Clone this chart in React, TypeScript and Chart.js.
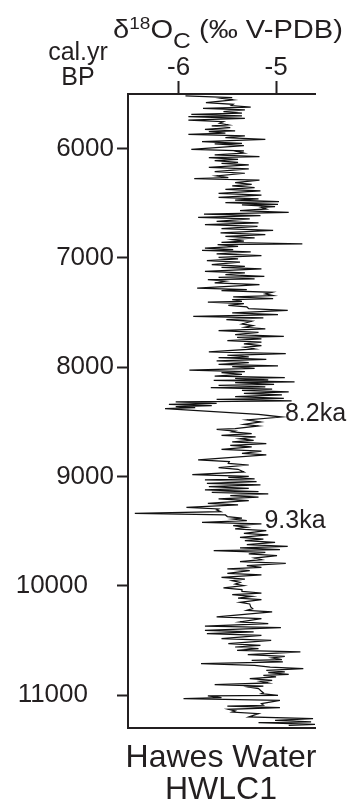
import React, { useEffect, useRef } from 'react';
import { Chart, registerables } from 'chart.js';

Chart.register(...registerables);

// Age (cal. yr BP) and δ18O carbonate (‰ V-PDB) read from the record
const ages: number[] = [
  5518, 5533, 5539, 5554, 5579, 5594, 5606, 5621, 5631, 5646, 5661, 5676, 5686, 5701, 5707, 5722,
  5738, 5753, 5768, 5783, 5792, 5807, 5823, 5838, 5844, 5859, 5869, 5884, 5899, 5914, 5936, 5951,
  5957, 5972, 6006, 6021, 6027, 6042, 6058, 6073, 6082, 6097, 6110, 6125, 6134, 6149, 6171, 6186,
  6210, 6225, 6250, 6265, 6274, 6289, 6311, 6326, 6341, 6356, 6372, 6387, 6409, 6424, 6445, 6460,
  6470, 6485, 6494, 6509, 6515, 6530, 6537, 6552, 6567, 6582, 6598, 6613, 6628, 6643,
  6665, 6680, 6695, 6710, 6732, 6747, 6771, 6786, 6802, 6817, 6832, 6847, 6857, 6872, 6878, 6893,
  6909, 6924, 6930, 6945, 6963, 6978, 6994, 7009, 7024, 7039, 7061, 7076, 7085, 7100, 7122, 7137,
  7153, 7168, 7177, 7192, 7198, 7213, 7229, 7244, 7275, 7290, 7299, 7314, 7329, 7344, 7357, 7372,
  7381, 7396, 7403, 7418, 7433, 7448, 7464, 7479, 7503, 7518, 7534, 7549, 7564, 7579, 7604, 7619,
  7634, 7649, 7665, 7680, 7702, 7717, 7726, 7741, 7756, 7771, 7787, 7802, 7817, 7832,
  7860, 7875, 7890, 7905, 7912, 7927, 7942, 7957, 7973, 7988, 7994, 8009, 8025, 8040, 8049, 8064,
  8080, 8095, 8101, 8116, 8119, 8134, 8141, 8156, 8165, 8180, 8186, 8201, 8211, 8226, 8238, 8253,
  8269, 8284, 8293, 8308, 8317, 8330, 8339, 8351, 8360, 8369, 8378, 8430, 8455, 8482, 8500, 8522,
  8537, 8561, 8568, 8583, 8592, 8607, 8622, 8637, 8653, 8668, 8683, 8698, 8714, 8729, 8751, 8766,
  8787, 8802, 8848, 8863, 8879, 8894, 8918, 8933, 8958, 8982, 8997,
  9007, 9022, 9031, 9046, 9061, 9076, 9092, 9107, 9122, 9137, 9144, 9159, 9174, 9189, 9205, 9220,
  9244, 9259, 9281, 9296, 9305, 9320, 9336, 9351, 9366, 9381, 9388, 9403, 9418, 9433, 9449, 9464,
  9479, 9494, 9519, 9534, 9556, 9571, 9586, 9601, 9623, 9638, 9653, 9668, 9678, 9693, 9708, 9723,
  9745, 9760, 9778, 9793, 9815, 9830, 9845, 9860, 9885, 9900, 9922, 9937, 9952, 9967, 9983, 9998,
  10019, 10034, 10050, 10065, 10080, 10095, 10111, 10126, 10150, 10165,
  10193, 10208, 10223, 10238, 10284, 10299, 10330, 10345, 10367, 10382, 10406, 10421, 10437, 10452,
  10483, 10498, 10528, 10543, 10559, 10574, 10589, 10604, 10629, 10644, 10659, 10674, 10681, 10696,
  10711, 10726, 10742, 10757, 10772, 10787, 10794, 10809, 10818, 10833, 10849, 10864, 10873, 10888,
  10903, 10918, 10925, 10940, 10964, 10979, 10986, 11001, 11007, 11022, 11032, 11047, 11077, 11092,
  11099, 11114, 11129, 11144, 11154, 11169, 11199, 11214, 11230, 11245, 11251, 11266, 11276,
];

const d18O: number[] = [
  -5.93, -5.45, -5.56, -5.44, -5.72, -5.44, -5.46, -5.26, -5.75, -5.32, -5.54, -5.35, -5.87, -5.35, -5.90, -5.32,
  -5.90, -5.54, -5.58, -5.49, -5.66, -5.47, -5.73, -5.42, -5.69, -5.52, -5.90, -5.32, -5.52, -5.11, -5.76, -5.35,
  -5.63, -5.33, -5.87, -5.33, -5.40, -5.33, -5.63, -5.17, -5.69, -5.39, -5.63, -5.39, -5.56, -5.28, -5.69, -5.28,
  -5.63, -5.32, -5.61, -5.49, -5.84, -5.17, -5.42, -5.25, -5.45, -5.22, -5.52, -5.16, -5.59, -5.15, -5.59, -5.18,
  -5.42, -4.97, -5.52, -4.98, -5.35, -5.01, -5.15, -5.10, -5.37, -4.87, -5.74, -5.16, -5.80, -5.27,
  -5.61, -5.18, -5.73, -5.19, -5.56, -5.03, -5.57, -5.11, -5.52, -5.22, -5.45, -5.33, -5.56, -4.73, -5.60, -5.39,
  -5.73, -5.44, -5.76, -5.26, -5.61, -5.15, -5.59, -5.39, -5.71, -5.37, -5.66, -5.32, -5.56, -5.15, -5.73, -5.32,
  -5.52, -5.12, -5.59, -5.22, -5.70, -5.52, -5.63, -5.17, -5.81, -5.30, -5.56, -5.04, -5.11, -5.03, -5.44, -5.03,
  -5.45, -5.35, -5.70, -5.33, -5.49, -5.30, -5.28, -4.88, -5.45, -4.98, -5.85, -5.13, -5.51, -5.25, -5.35, -5.24,
  -5.32, -5.11, -5.59, -5.18, -5.42, -4.92, -5.40, -5.15, -5.50, -5.15, -5.33, -5.15, -5.32, -5.22,
  -5.69, -4.90, -5.50, -5.28, -5.59, -5.10, -5.61, -5.28, -5.59, -4.98, -5.45, -5.22, -5.89, -5.32, -5.56, -5.35,
  -5.63, -4.91, -5.42, -5.08, -5.64, -4.81, -5.42, -5.02, -5.59, -5.11, -5.67, -5.04, -5.35, -4.87, -5.33, -4.94,
  -5.42, -4.92, -5.61, -4.84, -6.03, -5.61, -6.10, -5.66, -6.03, -5.83, -6.14, -5.18, -4.94, -5.30, -5.16, -5.33,
  -5.18, -5.42, -5.61, -5.42, -5.45, -5.25, -5.56, -5.21, -5.37, -5.23, -5.45, -5.10, -5.47, -5.25, -5.56, -5.15,
  -5.35, -5.10, -5.80, -5.48, -5.49, -5.28, -5.59, -5.39, -5.33, -5.86, -5.28,
  -5.49, -5.22, -5.73, -5.20, -5.71, -5.16, -5.69, -5.28, -5.73, -5.18, -5.66, -5.08, -5.47, -5.18, -5.59, -5.28,
  -5.70, -5.39, -5.92, -5.59, -5.61, -5.57, -6.45, -5.52, -5.50, -5.35, -5.44, -5.30, -5.76, -5.15, -5.44, -5.30,
  -5.42, -5.10, -5.33, -5.08, -5.37, -5.13, -5.32, -5.01, -5.30, -4.88, -5.37, -4.96, -5.64, -5.11, -5.28, -4.99,
  -5.22, -5.15, -5.37, -4.90, -5.30, -5.15, -5.50, -5.27, -5.50, -5.15, -5.56, -5.32, -5.45, -5.37, -5.42, -5.33,
  -5.54, -5.35, -5.35, -5.15, -5.45, -5.25, -5.39, -5.15, -5.37, -5.27,
  -5.26, -5.24, -5.30, -5.04, -5.61, -5.15, -5.37, -5.08, -5.73, -4.95, -5.73, -5.23, -5.71, -5.15,
  -5.56, -5.05, -5.49, -5.16, -5.42, -5.18, -5.40, -4.75, -5.29, -4.91, -5.04, -4.94, -5.25, -4.93,
  -5.77, -5.22, -5.06, -4.72, -5.10, -4.91, -5.08, -4.87, -5.13, -5.00, -5.27, -5.04, -5.16, -5.08,
  -5.63, -5.13, -5.28, -5.18, -5.15, -5.13, -5.15, -4.98, -5.70, -5.56, -5.95, -4.96, -5.15, -5.13,
  -5.50, -4.96, -5.49, -5.42, -5.45, -5.18, -5.28, -4.62, -5.01, -4.64, -5.18, -4.60, -4.87,
];

const xTicks: number[] = [-6, -5];
const yTicks: number[] = [6000, 7000, 8000, 9000, 10000, 11000];
const eventLabels: string[] = ['8.2ka', '9.3ka'];
const eventAges: number[] = [8455, 9433];
const eventValues: number[] = [-4.94, -5.15];

const INK = '#231f20';
const FONT = "'Liberation Sans', Arial, Helvetica, sans-serif";

export default function App() {
  const canvasRef = useRef<HTMLCanvasElement | null>(null);

  useEffect(() => {
    const canvas = canvasRef.current;
    if (!canvas) return;

    const eventLabelPlugin = {
      id: 'eventLabels',
      afterDatasetsDraw(chart: any) {
        const { ctx, scales } = chart;
        const xs = scales.x;
        const ys = scales.y;
        ctx.save();
        ctx.font = `25px ${FONT}`;
        ctx.fillStyle = INK;
        ctx.textAlign = 'left';
        ctx.textBaseline = 'alphabetic';
        eventLabels.forEach((t, i) => {
          const px = xs.getPixelForValue(eventValues[i]);
          const py = ys.getPixelForValue(eventAges[i]);
          ctx.fillText(t, px + 3, py + 4);
        });
        ctx.restore();
      },
    };

    const chart = new Chart(canvas, {
      type: 'scatter',
      data: {
        datasets: [
          {
            data: ages.map((a, i) => ({ x: d18O[i], y: a })),
            showLine: true,
            borderColor: '#111111',
            borderWidth: 1.25,
            pointRadius: 0,
            pointHoverRadius: 0,
            tension: 0,
            fill: false,
          },
        ],
      },
      options: {
        animation: false,
        responsive: false,
        maintainAspectRatio: false,
        devicePixelRatio: 1,
        events: [],
        layout: { padding: { top: 0, left: 0, right: 49, bottom: 0 } },
        plugins: {
          legend: { display: false },
          tooltip: { enabled: false },
          title: { display: false },
        },
        scales: {
          x: {
            type: 'linear',
            position: 'top',
            min: -6.52,
            max: -4.6,
            afterFit: (s: any) => {
              s.height = 94;
            },
            afterBuildTicks: (s: any) => {
              s.ticks = xTicks.map((v) => ({ value: v }));
            },
            grid: {
              display: true,
              drawOnChartArea: false,
              drawTicks: true,
              tickLength: 13,
              tickWidth: 2,
              tickColor: INK,
            },
            border: { display: true, color: INK, width: 2 },
            ticks: {
              color: INK,
              padding: 0,
              maxRotation: 0,
              font: { family: FONT, size: 26, lineHeight: 1 },
              callback: (v: any) => String(v),
            },
          },
          x2: {
            type: 'linear',
            position: 'bottom',
            min: -6.52,
            max: -4.6,
            afterFit: (s: any) => {
              s.height = 76;
            },
            grid: { display: false, drawTicks: false },
            border: { display: true, color: INK, width: 2 },
            ticks: { display: false },
          },
          y: {
            type: 'linear',
            position: 'left',
            reverse: true,
            min: 5500,
            max: 11300,
            afterFit: (s: any) => {
              s.width = 128;
            },
            afterBuildTicks: (s: any) => {
              s.ticks = yTicks.map((v) => ({ value: v }));
            },
            grid: {
              display: true,
              drawOnChartArea: false,
              drawTicks: true,
              tickLength: 11,
              tickWidth: 2,
              tickColor: INK,
            },
            border: { display: true, color: INK, width: 2 },
            ticks: {
              color: INK,
              padding: 3,
              font: { family: FONT, size: 26, lineHeight: 1 },
              callback: (v: any) => (Number(v) >= 10000 ? String(v) + '\u2002\u2002' : String(v)),
            },
          },
        },
      },
      plugins: [eventLabelPlugin],
    } as any);

    return () => {
      chart.destroy();
    };
  }, []);

  const textBase: React.CSSProperties = {
    position: 'absolute',
    fontFamily: FONT,
    color: INK,
    whiteSpace: 'nowrap',
    margin: 0,
  };

  return (
    <div style={{ position: 'absolute', left: 0, top: 0, width: 364, height: 804, background: '#ffffff' }}>
      <canvas ref={canvasRef} width={364} height={804} style={{ position: 'absolute', left: 0, top: 0, width: 364, height: 804 }} />
      <div
        style={{
          ...textBase,
          left: 113,
          top: 11,
          fontSize: 26,
          lineHeight: '26px',
          transform: 'scaleX(1.12)',
          transformOrigin: 'left top',
        }}
      >
        δ<span style={{ fontSize: 17, verticalAlign: 9 }}>18</span>O
        <span style={{ fontSize: 22, verticalAlign: -10 }}>C</span> (‰ V-PDB)
      </div>
      <div
        style={{
          ...textBase,
          left: 28,
          width: 100,
          top: 39,
          fontSize: 25,
          lineHeight: '25px',
          textAlign: 'center',
        }}
      >
        cal.yr
        <br />
        BP
      </div>
      <div
        style={{
          ...textBase,
          left: 121,
          width: 200,
          top: 740,
          fontSize: 32,
          lineHeight: '32px',
          textAlign: 'center',
        }}
      >
        Hawes Water
        <br />
        HWLC1
      </div>
    </div>
  );
}
